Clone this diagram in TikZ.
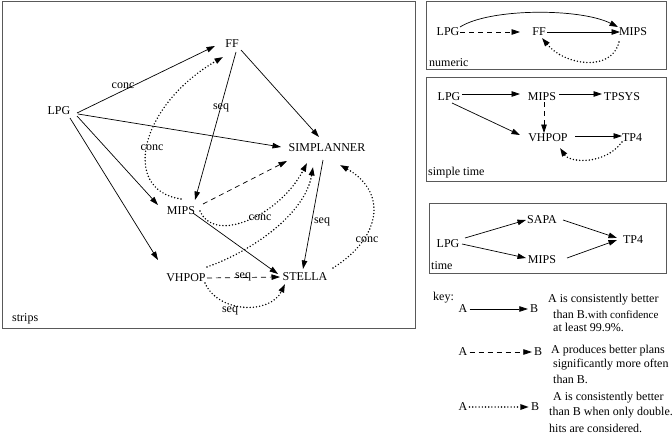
\documentclass[tikz,border=0pt]{standalone}
\usepackage{fontspec}
\setmainfont{Liberation Serif}
\usetikzlibrary{arrows.meta,calc}
\begin{document}
\begin{tikzpicture}[x=1pt,y=-1pt,
  every node/.style={font=\fontsize{12}{14}\selectfont, inner sep=2pt},
  >={Triangle[length=8.5pt,width=5.5pt]},
  edge/.style={->, line width=0.7pt},
  dsh/.style={->, line width=0.7pt, dash pattern=on 5pt off 4pt},
  dot/.style={->, line width=1.6pt, line cap=round, dash pattern=on 0pt off 3.2pt},
  panel/.style={draw=black!65, line width=1pt},
  lbl/.style={inner sep=0pt},
  txt/.style={anchor=west, inner sep=0pt}]
\useasboundingbox (0,0) rectangle (672,436);

% ---------------- strips panel
\draw[panel] (2,2) rectangle (415,328);
\node (LPG) at (59,111) {LPG};
\node (FF) at (232,44) {FF};
\node (SIMP) at (327,148) {SIMPLANNER};
\node (MIPS) at (181,211) {MIPS};
\node (VHPOP) at (186,278) {VHPOP};
\node (STELLA) at (305,277) {STELLA};
\node[txt] (strips) at (12,319) {strips};

\draw[edge] ($(LPG)+(18,2)$) -- ($(FF)+(-17,2)$);
\draw[edge] ($(LPG)+(19,3)$) -- ($(SIMP)+(-46,-1)$);
\draw[edge] ($(LPG)+(18,5)$) -- ($(MIPS)+(-23,-6)$);
\draw[edge] ($(LPG)+(11,7)$) -- ($(VHPOP)+(-28,-18)$);
\draw[edge] ($(FF)+(9,6)$) -- ($(SIMP)+(-8,-11)$);
\draw[edge] ($(FF)+(4,8)$) -- ($(MIPS)+(14,-11)$);
\draw[dot] ($(MIPS)+(0,-12)$) .. controls (120,190) and (140,105) .. ($(FF)+(-9,13)$);
\draw[dsh] ($(MIPS)+(22,-7)$) -- ($(SIMP)+(-40,13)$);
\draw[dot] ($(MIPS)+(19,0)$) .. controls (215,245) and (280,215) .. ($(SIMP)+(-20,15)$);
\draw[edge] ($(MIPS)+(12,2)$) -- ($(STELLA)+(-27,-3)$);
\draw[edge] ($(SIMP)+(-4,12)$) -- ($(STELLA)+(-2,-8)$);
\draw[dot] ($(VHPOP)+(21,-11)$) .. controls (250,252) and (305,215) .. ($(SIMP)+(-14,19)$);
\draw[dsh] ($(VHPOP)+(21,0)$) -- ($(STELLA)+(-25,0)$);
\draw[dot] ($(VHPOP)+(19,5)$) .. controls (218,313) and (270,315) .. ($(STELLA)+(-20,7)$);
\draw[dot] ($(STELLA)+(28,-9)$) .. controls (385,235) and (385,190) .. ($(SIMP)+(13,17)$);

\node[lbl] (l1) at (123,86) {conc};
\node[lbl] (l2) at (221,108) {seq};
\node[lbl] (l3) at (152,148) {conc};
\node[lbl] (l4) at (260,218) {conc};
\node[lbl] (l5) at (322,222) {seq};
\node[lbl] (l6) at (367,240) {conc};
\node[lbl] (l7) at (243,277) {seq};
\node[lbl] (l8) at (230,311) {seq};

% ---------------- numeric panel
\draw[panel] (426,2) rectangle (666,70);
\node (nLPG) at (448,32) {LPG};
\node (nFF) at (539,32) {FF};
\node (nMIPS) at (633,32) {MIPS};
\node[txt] (numeric) at (429,63) {numeric};
\draw[dsh] ($(nLPG)+(12,0)$) -- ($(nFF)+(-19,0)$);
\draw[edge] ($(nFF)+(8,0)$) -- ($(nMIPS)+(-13,0)$);
\draw[edge] ($(nLPG)+(12,-5)$) .. controls (490,8) and (580,8) .. ($(nMIPS)+(-15,-5)$);
\draw[dot] ($(nMIPS)+(-14,10)$) .. controls (612,72) and (565,66) .. ($(nFF)+(3,6)$);

% ---------------- simple time panel
\draw[panel] (426,78) rectangle (666,181);
\node (sLPG) at (449,97) {LPG};
\node (sMIPS) at (542,97) {MIPS};
\node (sTPSYS) at (622,97) {TPSYS};
\node (sVHPOP) at (548,138) {VHPOP};
\node (sTP4) at (632,138) {TP4};
\node[txt] (simpletime) at (428,173) {simple time};
\draw[edge] ($(sLPG)+(13,-3)$) -- ($(sMIPS)+(-22,-3)$);
\draw[edge] ($(sMIPS)+(17,-3)$) -- ($(sTPSYS)+(-20,-3)$);
\draw[edge] ($(sLPG)+(3,6)$) -- ($(sVHPOP)+(-28,-3)$);
\draw[dsh] ($(sMIPS)+(2,5)$) -- ($(sVHPOP)+(-4,-5)$);
\draw[edge] ($(sVHPOP)+(27,-2)$) -- ($(sTP4)+(-10,-2)$);
\draw[dot] ($(sTP4)+(-10,4)$) .. controls (605,165) and (570,163) .. ($(sVHPOP)+(12,10)$);

% ---------------- time panel
\draw[panel] (429,203) rectangle (666,273);
\node (tLPG) at (448,244) {LPG};
\node (tSAPA) at (542,220) {SAPA};
\node (tMIPS) at (542,260) {MIPS};
\node (tTP4) at (633,240) {TP4};
\node[txt] (time) at (431,266) {time};
\draw[edge] ($(tLPG)+(17,-6)$) -- ($(tSAPA)+(-16,0)$);
\draw[edge] ($(tLPG)+(14,0)$) -- ($(tMIPS)+(-16,-2)$);
\draw[edge] ($(tSAPA)+(21,0)$) -- ($(tTP4)+(-16,-2)$);
\draw[edge] ($(tMIPS)+(25,-2)$) -- ($(tTP4)+(-16,0)$);

% ---------------- key
\node[txt] (key) at (433,298) {key:};
\node (kA1) at (463,309) {A};
\node (kB1) at (534,309) {B};
\draw[edge] (kA1) -- (kB1);
\node[txt] (k1a) at (548,300) {A is consistently better};
\node[txt] (k1b) at (553,314) {than B.{\fontsize{11}{12}\selectfont with confidence}};
\node[txt] (k1c) at (553,327) {at least 99.9\%.};

\node (kA2) at (463,352) {A};
\node (kB2) at (538,352) {B};
\draw[dsh] (kA2) -- (kB2);
\node[txt] (k2a) at (551,351) {A produces better plans};
\node[txt] (k2b) at (553,365) {significantly more often};
\node[txt] (k2c) at (553,379) {than B.};

\node (kA3) at (463,407) {A};
\node (kB3) at (535,407) {B};
\draw[dot] (kA3) -- (kB3);
\node[txt] (k3a) at (553,398) {A is consistently better};
\node[txt] (k3b) at (549,413) {than B when only double.};
\node[txt] (k3c) at (549,428) {hits are considered.};
\end{tikzpicture}
\end{document}
